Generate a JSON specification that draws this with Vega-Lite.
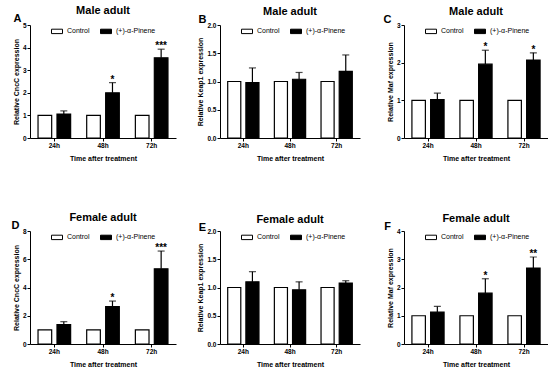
{
  "$schema": "https://vega.github.io/schema/vega-lite/v6.json",
  "padding": {"left": 11, "top": 5, "right": 0, "bottom": 0},
  "background": "white",
  "columns": 3,
  "spacing": {"row": 93, "column": 44},
  "bounds": "flush",
  "resolve": {"scale": {"color": "independent", "x": "independent", "y": "independent", "xOffset": "independent"}, "legend": {"color": "independent"}},
  "config": {
    "font": "Liberation Sans",
    "view": {"stroke": null},
    "axis": {"domainColor": "black", "tickColor": "black", "labelColor": "black", "titleColor": "black", "labelFontWeight": "bold", "labelFontSize": 6.5, "titleFontSize": 7, "titleFontWeight": "bold", "tickSize": 3, "grid": false, "labelPadding": 1, "titlePadding": 3, "domainWidth": 1, "tickWidth": 1, "labelOverlap": false, "labelFlush": false},
    "axisX": {"titlePadding": 6, "labelPadding": 1, "labelAngle": 0},
    "legend": {"orient": "none", "legendX": 21, "legendY": 0, "direction": "horizontal", "symbolType": "M-1,-0.4H1V0.4H-1Z", "symbolSize": 121, "symbolStrokeColor": "black", "symbolStrokeWidth": 1, "labelFontSize": 7, "labelColor": "black", "columnPadding": 8, "labelOffset": 4},
    "title": {"fontSize": 11, "fontWeight": "bold", "color": "black", "anchor": "middle", "frame": "group", "offset": -4}
  },
  "concat": [
    {
      "width": 146, "height": 113,
      "title": {"text": "Male adult"},
      "data": {"values": [
        {"time": "24h", "group": "Control", "mean": 1},
        {"time": "48h", "group": "Control", "mean": 1},
        {"time": "72h", "group": "Control", "mean": 1},
        {"time": "24h", "group": "(+)-α-Pinene", "mean": 1.06, "hi": 1.2, "sig": ""},
        {"time": "48h", "group": "(+)-α-Pinene", "mean": 2.0, "hi": 2.45, "sig": "*"},
        {"time": "72h", "group": "(+)-α-Pinene", "mean": 3.55, "hi": 3.93, "sig": "***"}
      ]},
      "layer": [
        {"mark": {"type": "bar", "stroke": "black", "strokeWidth": 1.2},
         "encoding": {
           "x": {"field": "time", "type": "nominal", "scale": {"domain": ["24h", "48h", "72h"], "paddingInner": 0.33, "paddingOuter": 0.165}, "axis": {"title": "Time after treatment", "bandPosition": 0.5}},
           "xOffset": {"field": "group", "type": "nominal", "scale": {"domain": ["Control", "(+)-α-Pinene"], "paddingInner": 0.28}},
           "y": {"field": "mean", "type": "quantitative", "scale": {"domain": [0, 5]}, "axis": {"title": "Relative CncC expression", "values": [0, 1, 2, 3, 4, 5], "format": "d"}},
           "color": {"field": "group", "type": "nominal", "scale": {"domain": ["Control", "(+)-α-Pinene"], "range": ["white", "black"]}, "legend": {"title": null}}
         }},
        {"transform": [{"filter": "isValid(datum.hi)"}], "mark": {"type": "rule", "strokeWidth": 1.2, "color": "black"},
         "encoding": {
           "x": {"field": "time", "type": "nominal", "axis": {"orient": "top", "title": "A", "titleX": -13, "titleY": -4, "titleAngle": 0, "titleAlign": "center", "titleBaseline": "alphabetic", "titleFontSize": 11, "domain": false, "ticks": false, "labels": false}},
           "xOffset": {"field": "group", "type": "nominal"},
           "y": {"field": "mean", "type": "quantitative", "axis": {"title": "Relative CncC expression", "values": [0, 1, 2, 3, 4, 5], "format": "d"}},
           "y2": {"field": "hi"}
         }},
        {"transform": [{"filter": "isValid(datum.hi)"}], "mark": {"type": "tick", "thickness": 1.2, "size": 7, "color": "black"},
         "encoding": {
           "x": {"field": "time", "type": "nominal", "axis": null},
           "xOffset": {"field": "group", "type": "nominal"},
           "y": {"field": "hi", "type": "quantitative", "axis": {"title": "Relative CncC expression", "values": [0, 1, 2, 3, 4, 5], "format": "d"}}
         }},
        {"transform": [{"filter": "isValid(datum.hi)"}], "mark": {"type": "text", "baseline": "bottom", "dy": 2, "fontSize": 10, "fontWeight": "bold", "color": "black"},
         "encoding": {
           "x": {"field": "time", "type": "nominal", "axis": null},
           "xOffset": {"field": "group", "type": "nominal"},
           "y": {"field": "hi", "type": "quantitative", "axis": {"title": "Relative CncC expression", "values": [0, 1, 2, 3, 4, 5], "format": "d"}},
           "text": {"field": "sig"}
         }}
      ],
      "resolve": {"axis": {"x": "independent"}}
    },
    {
      "width": 140, "height": 113,
      "title": {"text": "Male adult"},
      "data": {"values": [
        {"time": "24h", "group": "Control", "mean": 1},
        {"time": "48h", "group": "Control", "mean": 1},
        {"time": "72h", "group": "Control", "mean": 1},
        {"time": "24h", "group": "(+)-α-Pinene", "mean": 0.98, "hi": 1.24, "sig": ""},
        {"time": "48h", "group": "(+)-α-Pinene", "mean": 1.04, "hi": 1.16, "sig": ""},
        {"time": "72h", "group": "(+)-α-Pinene", "mean": 1.18, "hi": 1.47, "sig": ""}
      ]},
      "layer": [
        {"mark": {"type": "bar", "stroke": "black", "strokeWidth": 1.2},
         "encoding": {
           "x": {"field": "time", "type": "nominal", "scale": {"domain": ["24h", "48h", "72h"], "paddingInner": 0.33, "paddingOuter": 0.165}, "axis": {"title": "Time after treatment", "bandPosition": 0.5}},
           "xOffset": {"field": "group", "type": "nominal", "scale": {"domain": ["Control", "(+)-α-Pinene"], "paddingInner": 0.28}},
           "y": {"field": "mean", "type": "quantitative", "scale": {"domain": [0, 2]}, "axis": {"title": "Relative Keap1 expression", "values": [0, 0.5, 1, 1.5, 2], "format": ".1f"}},
           "color": {"field": "group", "type": "nominal", "scale": {"domain": ["Control", "(+)-α-Pinene"], "range": ["white", "black"]}, "legend": {"title": null}}
         }},
        {"transform": [{"filter": "isValid(datum.hi)"}], "mark": {"type": "rule", "strokeWidth": 1.2, "color": "black"},
         "encoding": {
           "x": {"field": "time", "type": "nominal", "axis": {"orient": "top", "title": "B", "titleX": -18, "titleY": -3, "titleAngle": 0, "titleAlign": "center", "titleBaseline": "alphabetic", "titleFontSize": 11, "domain": false, "ticks": false, "labels": false}},
           "xOffset": {"field": "group", "type": "nominal"},
           "y": {"field": "mean", "type": "quantitative", "axis": {"title": "Relative Keap1 expression", "values": [0, 0.5, 1, 1.5, 2], "format": ".1f"}},
           "y2": {"field": "hi"}
         }},
        {"transform": [{"filter": "isValid(datum.hi)"}], "mark": {"type": "tick", "thickness": 1.2, "size": 7, "color": "black"},
         "encoding": {
           "x": {"field": "time", "type": "nominal", "axis": null},
           "xOffset": {"field": "group", "type": "nominal"},
           "y": {"field": "hi", "type": "quantitative", "axis": {"title": "Relative Keap1 expression", "values": [0, 0.5, 1, 1.5, 2], "format": ".1f"}}
         }}
      ],
      "resolve": {"axis": {"x": "independent"}}
    },
    {
      "width": 144, "height": 113,
      "title": {"text": "Male adult"},
      "data": {"values": [
        {"time": "24h", "group": "Control", "mean": 1},
        {"time": "48h", "group": "Control", "mean": 1},
        {"time": "72h", "group": "Control", "mean": 1},
        {"time": "24h", "group": "(+)-α-Pinene", "mean": 1.02, "hi": 1.19, "sig": ""},
        {"time": "48h", "group": "(+)-α-Pinene", "mean": 1.96, "hi": 2.33, "sig": "*"},
        {"time": "72h", "group": "(+)-α-Pinene", "mean": 2.07, "hi": 2.26, "sig": "*"}
      ]},
      "layer": [
        {"mark": {"type": "bar", "stroke": "black", "strokeWidth": 1.2},
         "encoding": {
           "x": {"field": "time", "type": "nominal", "scale": {"domain": ["24h", "48h", "72h"], "paddingInner": 0.33, "paddingOuter": 0.165}, "axis": {"title": "Time after treatment", "bandPosition": 0.5}},
           "xOffset": {"field": "group", "type": "nominal", "scale": {"domain": ["Control", "(+)-α-Pinene"], "paddingInner": 0.28}},
           "y": {"field": "mean", "type": "quantitative", "scale": {"domain": [0, 3]}, "axis": {"title": "Relative Maf expression", "values": [0, 1, 2, 3], "format": "d"}},
           "color": {"field": "group", "type": "nominal", "scale": {"domain": ["Control", "(+)-α-Pinene"], "range": ["white", "black"]}, "legend": {"title": null}}
         }},
        {"transform": [{"filter": "isValid(datum.hi)"}], "mark": {"type": "rule", "strokeWidth": 1.2, "color": "black"},
         "encoding": {
           "x": {"field": "time", "type": "nominal", "axis": {"orient": "top", "title": "C", "titleX": -17, "titleY": -3, "titleAngle": 0, "titleAlign": "center", "titleBaseline": "alphabetic", "titleFontSize": 11, "domain": false, "ticks": false, "labels": false}},
           "xOffset": {"field": "group", "type": "nominal"},
           "y": {"field": "mean", "type": "quantitative", "axis": {"title": "Relative Maf expression", "values": [0, 1, 2, 3], "format": "d"}},
           "y2": {"field": "hi"}
         }},
        {"transform": [{"filter": "isValid(datum.hi)"}], "mark": {"type": "tick", "thickness": 1.2, "size": 7, "color": "black"},
         "encoding": {
           "x": {"field": "time", "type": "nominal", "axis": null},
           "xOffset": {"field": "group", "type": "nominal"},
           "y": {"field": "hi", "type": "quantitative", "axis": {"title": "Relative Maf expression", "values": [0, 1, 2, 3], "format": "d"}}
         }},
        {"transform": [{"filter": "isValid(datum.hi)"}], "mark": {"type": "text", "baseline": "bottom", "dy": 2, "fontSize": 10, "fontWeight": "bold", "color": "black"},
         "encoding": {
           "x": {"field": "time", "type": "nominal", "axis": null},
           "xOffset": {"field": "group", "type": "nominal"},
           "y": {"field": "hi", "type": "quantitative", "axis": {"title": "Relative Maf expression", "values": [0, 1, 2, 3], "format": "d"}},
           "text": {"field": "sig"}
         }}
      ],
      "resolve": {"axis": {"x": "independent"}}
    },
    {
      "width": 146, "height": 113,
      "title": {"text": "Female adult"},
      "data": {"values": [
        {"time": "24h", "group": "Control", "mean": 1},
        {"time": "48h", "group": "Control", "mean": 1},
        {"time": "72h", "group": "Control", "mean": 1},
        {"time": "24h", "group": "(+)-α-Pinene", "mean": 1.38, "hi": 1.58, "sig": ""},
        {"time": "48h", "group": "(+)-α-Pinene", "mean": 2.65, "hi": 3.04, "sig": "*"},
        {"time": "72h", "group": "(+)-α-Pinene", "mean": 5.32, "hi": 6.58, "sig": "***"}
      ]},
      "layer": [
        {"mark": {"type": "bar", "stroke": "black", "strokeWidth": 1.2},
         "encoding": {
           "x": {"field": "time", "type": "nominal", "scale": {"domain": ["24h", "48h", "72h"], "paddingInner": 0.33, "paddingOuter": 0.165}, "axis": {"title": "Time after treatment", "bandPosition": 0.5}},
           "xOffset": {"field": "group", "type": "nominal", "scale": {"domain": ["Control", "(+)-α-Pinene"], "paddingInner": 0.28}},
           "y": {"field": "mean", "type": "quantitative", "scale": {"domain": [0, 8]}, "axis": {"title": "Relative CncC expression", "values": [0, 2, 4, 6, 8], "format": "d"}},
           "color": {"field": "group", "type": "nominal", "scale": {"domain": ["Control", "(+)-α-Pinene"], "range": ["white", "black"]}, "legend": {"title": null}}
         }},
        {"transform": [{"filter": "isValid(datum.hi)"}], "mark": {"type": "rule", "strokeWidth": 1.2, "color": "black"},
         "encoding": {
           "x": {"field": "time", "type": "nominal", "axis": {"orient": "top", "title": "D", "titleX": -15, "titleY": -3, "titleAngle": 0, "titleAlign": "center", "titleBaseline": "alphabetic", "titleFontSize": 11, "domain": false, "ticks": false, "labels": false}},
           "xOffset": {"field": "group", "type": "nominal"},
           "y": {"field": "mean", "type": "quantitative", "axis": {"title": "Relative CncC expression", "values": [0, 2, 4, 6, 8], "format": "d"}},
           "y2": {"field": "hi"}
         }},
        {"transform": [{"filter": "isValid(datum.hi)"}], "mark": {"type": "tick", "thickness": 1.2, "size": 7, "color": "black"},
         "encoding": {
           "x": {"field": "time", "type": "nominal", "axis": null},
           "xOffset": {"field": "group", "type": "nominal"},
           "y": {"field": "hi", "type": "quantitative", "axis": {"title": "Relative CncC expression", "values": [0, 2, 4, 6, 8], "format": "d"}}
         }},
        {"transform": [{"filter": "isValid(datum.hi)"}], "mark": {"type": "text", "baseline": "bottom", "dy": 2, "fontSize": 10, "fontWeight": "bold", "color": "black"},
         "encoding": {
           "x": {"field": "time", "type": "nominal", "axis": null},
           "xOffset": {"field": "group", "type": "nominal"},
           "y": {"field": "hi", "type": "quantitative", "axis": {"title": "Relative CncC expression", "values": [0, 2, 4, 6, 8], "format": "d"}},
           "text": {"field": "sig"}
         }}
      ],
      "resolve": {"axis": {"x": "independent"}}
    },
    {
      "width": 140, "height": 113,
      "title": {"text": "Female adult"},
      "data": {"values": [
        {"time": "24h", "group": "Control", "mean": 1},
        {"time": "48h", "group": "Control", "mean": 1},
        {"time": "72h", "group": "Control", "mean": 1},
        {"time": "24h", "group": "(+)-α-Pinene", "mean": 1.10, "hi": 1.28, "sig": ""},
        {"time": "48h", "group": "(+)-α-Pinene", "mean": 0.96, "hi": 1.10, "sig": ""},
        {"time": "72h", "group": "(+)-α-Pinene", "mean": 1.08, "hi": 1.12, "sig": ""}
      ]},
      "layer": [
        {"mark": {"type": "bar", "stroke": "black", "strokeWidth": 1.2},
         "encoding": {
           "x": {"field": "time", "type": "nominal", "scale": {"domain": ["24h", "48h", "72h"], "paddingInner": 0.33, "paddingOuter": 0.165}, "axis": {"title": "Time after treatment", "bandPosition": 0.5}},
           "xOffset": {"field": "group", "type": "nominal", "scale": {"domain": ["Control", "(+)-α-Pinene"], "paddingInner": 0.28}},
           "y": {"field": "mean", "type": "quantitative", "scale": {"domain": [0, 2]}, "axis": {"title": "Relative Keap1 expression", "values": [0, 0.5, 1, 1.5, 2], "format": ".1f"}},
           "color": {"field": "group", "type": "nominal", "scale": {"domain": ["Control", "(+)-α-Pinene"], "range": ["white", "black"]}, "legend": {"title": null}}
         }},
        {"transform": [{"filter": "isValid(datum.hi)"}], "mark": {"type": "rule", "strokeWidth": 1.2, "color": "black"},
         "encoding": {
           "x": {"field": "time", "type": "nominal", "axis": {"orient": "top", "title": "E", "titleX": -18, "titleY": -1, "titleAngle": 0, "titleAlign": "center", "titleBaseline": "alphabetic", "titleFontSize": 11, "domain": false, "ticks": false, "labels": false}},
           "xOffset": {"field": "group", "type": "nominal"},
           "y": {"field": "mean", "type": "quantitative", "axis": {"title": "Relative Keap1 expression", "values": [0, 0.5, 1, 1.5, 2], "format": ".1f"}},
           "y2": {"field": "hi"}
         }},
        {"transform": [{"filter": "isValid(datum.hi)"}], "mark": {"type": "tick", "thickness": 1.2, "size": 7, "color": "black"},
         "encoding": {
           "x": {"field": "time", "type": "nominal", "axis": null},
           "xOffset": {"field": "group", "type": "nominal"},
           "y": {"field": "hi", "type": "quantitative", "axis": {"title": "Relative Keap1 expression", "values": [0, 0.5, 1, 1.5, 2], "format": ".1f"}}
         }}
      ],
      "resolve": {"axis": {"x": "independent"}}
    },
    {
      "width": 144, "height": 113,
      "title": {"text": "Female adult"},
      "data": {"values": [
        {"time": "24h", "group": "Control", "mean": 1},
        {"time": "48h", "group": "Control", "mean": 1},
        {"time": "72h", "group": "Control", "mean": 1},
        {"time": "24h", "group": "(+)-α-Pinene", "mean": 1.13, "hi": 1.33, "sig": ""},
        {"time": "48h", "group": "(+)-α-Pinene", "mean": 1.80, "hi": 2.31, "sig": "*"},
        {"time": "72h", "group": "(+)-α-Pinene", "mean": 2.69, "hi": 3.08, "sig": "**"}
      ]},
      "layer": [
        {"mark": {"type": "bar", "stroke": "black", "strokeWidth": 1.2},
         "encoding": {
           "x": {"field": "time", "type": "nominal", "scale": {"domain": ["24h", "48h", "72h"], "paddingInner": 0.33, "paddingOuter": 0.165}, "axis": {"title": "Time after treatment", "bandPosition": 0.5}},
           "xOffset": {"field": "group", "type": "nominal", "scale": {"domain": ["Control", "(+)-α-Pinene"], "paddingInner": 0.28}},
           "y": {"field": "mean", "type": "quantitative", "scale": {"domain": [0, 4]}, "axis": {"title": "Relative Maf expression", "values": [0, 1, 2, 3, 4], "format": "d"}},
           "color": {"field": "group", "type": "nominal", "scale": {"domain": ["Control", "(+)-α-Pinene"], "range": ["white", "black"]}, "legend": {"title": null}}
         }},
        {"transform": [{"filter": "isValid(datum.hi)"}], "mark": {"type": "rule", "strokeWidth": 1.2, "color": "black"},
         "encoding": {
           "x": {"field": "time", "type": "nominal", "axis": {"orient": "top", "title": "F", "titleX": -17, "titleY": -2, "titleAngle": 0, "titleAlign": "center", "titleBaseline": "alphabetic", "titleFontSize": 11, "domain": false, "ticks": false, "labels": false}},
           "xOffset": {"field": "group", "type": "nominal"},
           "y": {"field": "mean", "type": "quantitative", "axis": {"title": "Relative Maf expression", "values": [0, 1, 2, 3, 4], "format": "d"}},
           "y2": {"field": "hi"}
         }},
        {"transform": [{"filter": "isValid(datum.hi)"}], "mark": {"type": "tick", "thickness": 1.2, "size": 7, "color": "black"},
         "encoding": {
           "x": {"field": "time", "type": "nominal", "axis": null},
           "xOffset": {"field": "group", "type": "nominal"},
           "y": {"field": "hi", "type": "quantitative", "axis": {"title": "Relative Maf expression", "values": [0, 1, 2, 3, 4], "format": "d"}}
         }},
        {"transform": [{"filter": "isValid(datum.hi)"}], "mark": {"type": "text", "baseline": "bottom", "dy": 2, "fontSize": 10, "fontWeight": "bold", "color": "black"},
         "encoding": {
           "x": {"field": "time", "type": "nominal", "axis": null},
           "xOffset": {"field": "group", "type": "nominal"},
           "y": {"field": "hi", "type": "quantitative", "axis": {"title": "Relative Maf expression", "values": [0, 1, 2, 3, 4], "format": "d"}},
           "text": {"field": "sig"}
         }}
      ],
      "resolve": {"axis": {"x": "independent"}}
    }
  ]
}
